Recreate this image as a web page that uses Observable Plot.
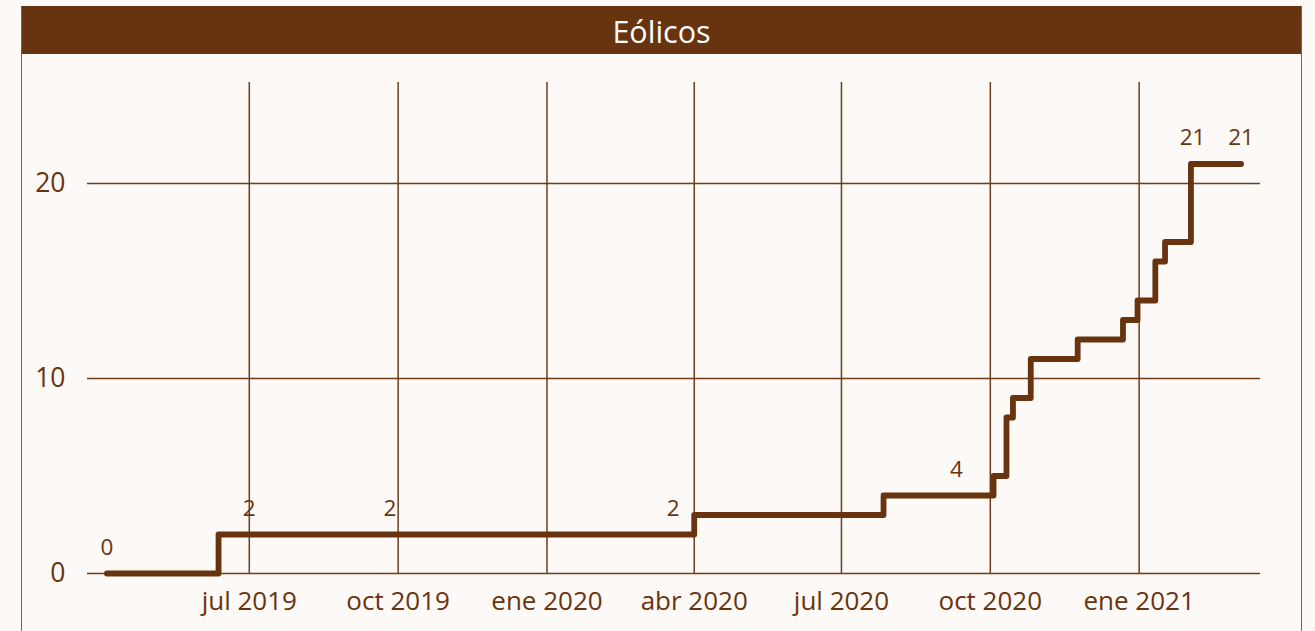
<!DOCTYPE html>
<html>
<head>
<meta charset="utf-8">
<script src="https://cdn.jsdelivr.net/npm/d3@7"></script>
<script src="https://cdn.jsdelivr.net/npm/@observablehq/plot@0.6"></script>
<style>
  body { margin: 0; background: #fdf9f6; font-family: "Open Sans", sans-serif; }
  #frame { position: absolute; left: 21px; top: 6px; width: 1279px; height: 640px; border: 1.5px solid #8a5a3a; border-bottom: none; }
  #title { position: absolute; left: 22px; top: 6px; width: 1279px; height: 48px; background: #67340f; color: #fff; font-size: 30.5px; text-align: center; line-height: 50px; }
  #chart { position: absolute; left: 0; top: 54px; }
</style>
</head>
<body>
<div id="frame"></div>
<div id="title">Eólicos</div>
<div id="chart"></div>
<script>
const stepDates = ["2019-04-04","2019-06-12","2020-04-01","2020-07-27","2020-10-03","2020-10-11","2020-10-15","2020-10-26","2020-11-24","2020-12-22","2020-12-31","2021-01-11","2021-01-17","2021-02-02","2021-03-05"];
const stepValues = [0,2,3,4,5,8,9,11,12,13,14,16,17,21,21];

const labelDates = ["2019-04-04","2019-07-01","2019-09-26","2020-03-19","2020-09-10","2021-02-03","2021-03-05"];
const labelValues = [0,2,2,2,4,21,21];

const tickDates = ["2019-07-01","2019-10-01","2020-01-01","2020-04-01","2020-07-01","2020-10-01","2021-01-01"];
const tickLabels = ["jul 2019","oct 2019","ene 2020","abr 2020","jul 2020","oct 2020","ene 2021"];
const yTicks = [0, 10, 20];

const brown = "#67340f";
const gridColor = "#6e3d1c";
const parse = d3.utcParse("%Y-%m-%d");

const steps = stepDates.map((d, i) => ({date: parse(d), value: stepValues[i]}));
const labels = labelDates.map((d, i) => ({date: parse(d), value: labelValues[i]}));
const ticks = tickDates.map(parse);

const chart = Plot.plot({
  width: 1315,
  height: 577,
  marginLeft: 87,
  marginRight: 55,
  marginTop: 28,
  marginBottom: 58,
  style: {background: "transparent", color: brown, fontFamily: "'Open Sans', sans-serif", fontSize: "26px"},
  x: {type: "utc", domain: [parse("2019-03-23"), parse("2021-03-17")], label: null},
  y: {domain: [0, 25.18], label: null},
  marks: [
    Plot.gridX(ticks, {stroke: gridColor, strokeOpacity: 1, strokeWidth: 1.5}),
    Plot.gridY([10, 20], {stroke: gridColor, strokeOpacity: 1, strokeWidth: 1.5}),
    Plot.ruleY([0], {stroke: gridColor, strokeWidth: 1.5}),
    Plot.axisY({ticks: yTicks, tickSize: 0, tickPadding: 22, fontSize: 26.5, label: null}),
    Plot.axisX({ticks: ticks, tickSize: 0, tickPadding: 18, fontSize: 26, label: null,
      tickFormat: d => tickLabels[ticks.findIndex(t => +t === +d)]}),
    Plot.line(steps, {x: "date", y: "value", curve: "step-after", stroke: brown, strokeWidth: 5.8, strokeLinecap: "round", strokeLinejoin: "round"}),
    Plot.text(labels, {x: "date", y: "value", text: d => String(d.value), dy: -26, fontSize: 22.5, fill: brown})
  ]
});
document.getElementById("chart").appendChild(chart);
</script>
</body>
</html>
